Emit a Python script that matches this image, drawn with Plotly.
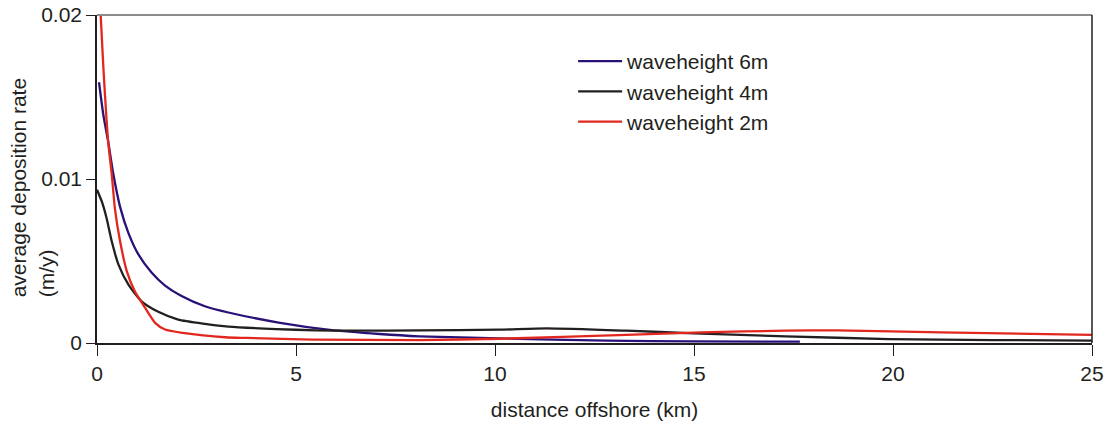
import plotly.graph_objects as go

# ---- data ----
x_6m = [0.05, 0.16, 0.28, 0.41, 0.58, 0.79, 1.04, 1.37, 1.71, 2.1, 2.71, 3.3, 4.6, 5.85, 7.1, 8.1,
        10.1, 12.8, 15.0, 17.66]
y_6m = [0.0159, 0.0139, 0.0123, 0.0103, 0.0083, 0.0067, 0.0054, 0.0043, 0.0035, 0.0029, 0.00224,
        0.00186, 0.00123, 0.00080, 0.00055, 0.00041, 0.00028, 0.00014, 0.00010, 0.00008]

x_4m = [0.0, 0.12, 0.24, 0.37, 0.54, 0.79, 1.12, 1.54, 2.04, 2.71, 3.3, 4.5, 5.5, 6.4, 8.1, 10.1,
        11.3, 13.3, 15.0, 17.3, 19.9, 22.5, 25.0]
y_4m = [0.00935, 0.00863, 0.00762, 0.0062, 0.00478, 0.00356, 0.00254, 0.0019, 0.00143, 0.00117,
        0.00100, 0.00085, 0.00077, 0.00075, 0.00077, 0.00081, 0.00089, 0.00075, 0.00059, 0.00041,
        0.00024, 0.00018, 0.00014]

x_2m = [0.06, 0.16, 0.28, 0.37, 0.45, 0.58, 0.75, 0.95, 1.21, 1.46, 1.71, 2.15, 3.22, 3.76, 5.43,
        8.1, 10.1, 13.3, 15.2, 17.3, 18.6, 21.2, 25.0]
y_2m = [0.0215, 0.0168, 0.0123, 0.0103, 0.0082, 0.0062, 0.00437, 0.00315, 0.00214, 0.00123,
        0.00082, 0.00062, 0.00035, 0.00031, 0.00021, 0.00018, 0.00026, 0.00049, 0.00065, 0.00075,
        0.00077, 0.00065, 0.00049]

series_names = ["waveheight 6m", "waveheight 4m", "waveheight 2m"]
x_ticks = [0, 5, 10, 15, 20, 25]
y_ticks = [0, 0.01, 0.02]
y_tick_text = ["0", "0.01", "0.02"]

FONT = "Arial, Liberation Sans, sans-serif"
TXT = "#231f20"

fig = go.Figure()
for xs, ys, name, col in [
    (x_6m, y_6m, series_names[0], "#2a1178"),
    (x_4m, y_4m, series_names[1], "#231f20"),
    (x_2m, y_2m, series_names[2], "#e2281e"),
]:
    fig.add_trace(go.Scatter(
        x=xs, y=ys, name=name, mode="lines",
        line=dict(color=col, width=2.3, shape="spline", smoothing=0.6),
    ))

fig.update_layout(
    width=1107, height=426,
    margin=dict(l=97, r=15, t=15, b=83),
    paper_bgcolor="white", plot_bgcolor="white",
    font=dict(family=FONT, size=21, color=TXT),
    showlegend=True,
    legend=dict(
        x=0.4785, y=0.921, xanchor="left", yanchor="top",
        bgcolor="rgba(0,0,0,0)", borderwidth=0,
        font=dict(family=FONT, size=21, color=TXT),
        itemwidth=44,
    ),
    xaxis=dict(
        range=[0, 25], tickvals=x_ticks, ticks="outside", ticklen=11, automargin=False,
        tickcolor=TXT, tickwidth=1.3, showline=True, linecolor=TXT, linewidth=1.5,
        showgrid=False, zeroline=False,
        title=dict(text="distance offshore (km)", font=dict(family=FONT, size=21, color=TXT), standoff=18),
    ),
    yaxis=dict(
        range=[0, 0.02], tickvals=y_ticks, ticktext=y_tick_text, ticks="outside", ticklen=9,
        automargin=False,
        tickcolor=TXT, tickwidth=1.3, showline=True, linecolor=TXT, linewidth=1.5,
        showgrid=False, zeroline=False,
    ),
    annotations=[dict(
        text="average deposition rate<br>(m/y)", textangle=-90, align="left",
        xref="paper", yref="paper", x=-0.0655, y=0.474, xanchor="center", yanchor="middle",
        showarrow=False, font=dict(family=FONT, size=21, color=TXT),
    )],
    shapes=[
        dict(type="line", xref="paper", yref="paper", x0=0, x1=1, y0=1, y1=1,
             line=dict(color="#8c8c8c", width=2)),
        dict(type="line", xref="paper", yref="paper", x0=1, x1=1, y0=0, y1=1,
             line=dict(color=TXT, width=1.5)),
    ],
)

fig.write_html("out.html")
